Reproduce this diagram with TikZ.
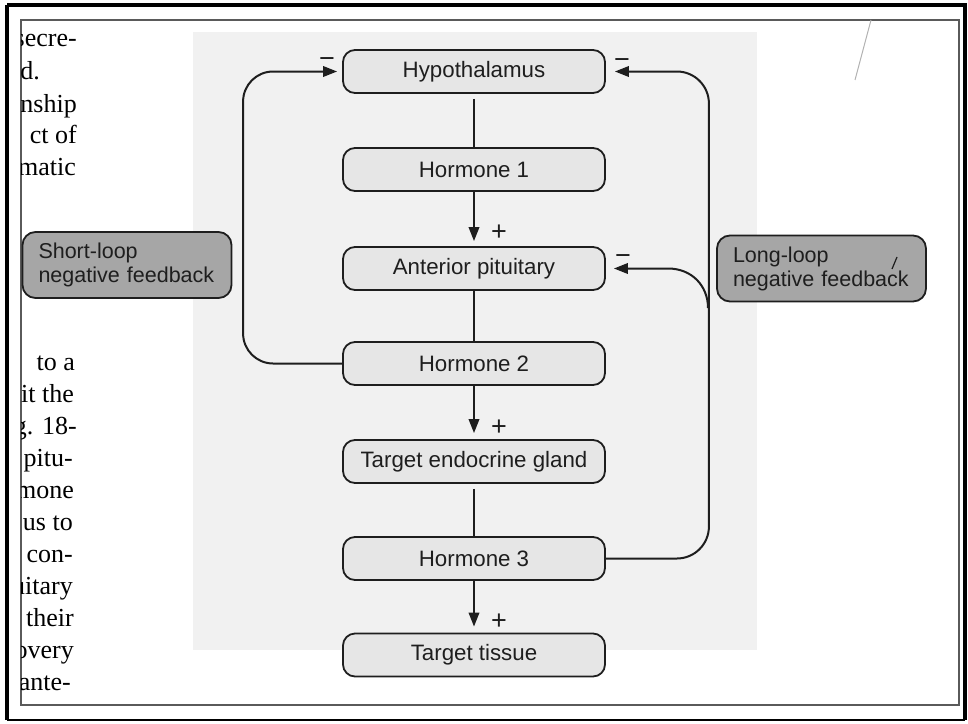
\documentclass[tikz,border=0pt]{standalone}
\usepackage{fontspec}
\setmainfont{Liberation Serif}
\newfontfamily\labelfont{Liberation Sans}
\usetikzlibrary{arrows.meta}

\definecolor{ink}{HTML}{1E1E1E}
\definecolor{panelgrey}{HTML}{F1F1F1}
\definecolor{boxgrey}{HTML}{E6E6E6}
\definecolor{taggrey}{HTML}{A6A6A6}
\definecolor{framegrey}{HTML}{5A5A5A}

\begin{document}
\begin{tikzpicture}[x=1pt,y=-1pt,
  stage/.style={draw=ink, line width=1.8pt, fill=boxgrey, rounded corners=12pt,
    minimum width=262pt, minimum height=43pt, inner sep=0pt,
    font=\labelfont\fontsize{22.3}{24}\selectfont, text=ink},
  tag/.style={draw=ink, line width=1.8pt, fill=taggrey, rounded corners=13pt,
    minimum height=66pt, inner xsep=16pt, inner ysep=0pt, align=left, text width=177pt,
    font=\labelfont\fontsize{21.5}{24}\selectfont, text=ink},
  link/.style={draw=ink, line width=2pt},
  flow/.style={link, -{Triangle[length=14pt,width=10.5pt]}},
  sign/.style={font=\labelfont\fontsize{27}{27}\selectfont, text=ink, inner sep=0pt},
  body/.style={font=\fontsize{26}{32}\selectfont, text=black, inner sep=0pt, anchor=base east},
]
\useasboundingbox (0,0) rectangle (968,723);

% page frame
\draw[line width=3.5pt] (7,5) -- (965,5) -- (965,720);
\draw[line width=3.5pt] (7,5) -- (7,720);
\draw[line width=2pt] (7,720) -- (965,720);
\draw[framegrey, line width=1.5pt] (21,20) rectangle (959,705);

% neighbouring column of running text, cut by the frame
\begin{scope}
  \clip (21.8,21) rectangle (190,704);
  \node[body] (t1)  at (77,46)  {secre-};
  \node[body] (t2)  at (40,79)  {d.};
  \node[body] (t3)  at (77,112) {nship};
  \node[body] (t4)  at (77,143) {ct of};
  \node[body] (t5)  at (76,175) {matic};
  \node[body] (t6)  at (75,370) {to a};
  \node[body] (t7)  at (74,402) {it the};
  \node[body] (t8)  at (77,434) {g. 18-};
  \node[body] (t9)  at (73,466) {pitu-};
  \node[body] (t10) at (74,498) {mone};
  \node[body] (t11) at (73,530) {us to};
  \node[body] (t12) at (73,562) {con-};
  \node[body] (t13) at (73,594) {uitary};
  \node[body] (t14) at (74,626) {their};
  \node[body] (t15) at (74,658) {overy};
  \node[body] (t16) at (71,690) {ante-};
\end{scope}

% figure panel
\fill[panelgrey] (193,32) rectangle (757,650);

% main chain
\node[stage] (hyp) at (474,71.5) {Hypothalamus};
\node[stage] (h1)  at (474,169.5) {Hormone 1};
\node[stage] (ap)  at (474,268.5) {Anterior pituitary};
\node[stage] (h2)  at (474,363.5) {Hormone 2};
\node[stage] (teg) at (474,461.5) {Target endocrine gland};
\node[stage] (h3)  at (474,558.5) {Hormone 3};
\node[stage] (tt)  at (474,655) {Target tissue};

\draw[link, shorten <=5pt] (hyp) -- (h1);
\draw[flow, shorten >=5pt] (h1) -- node[sign, pos=0.76, anchor=west, xshift=16pt] (p1) {+} (ap);
\draw[link] (ap) -- (h2);
\draw[flow, shorten >=6pt] (h2) -- node[sign, pos=0.78, anchor=west, xshift=16pt] (p2) {+} (teg);
\draw[link, shorten <=5pt] (teg) -- (h3);
\draw[flow, shorten >=6pt] (h3) -- node[sign, pos=0.78, anchor=west, xshift=16pt] (p3) {+} (tt);

% short loop
\draw[flow, rounded corners=30pt, shorten >=5pt] (h2.west) -- ++(-99,0) |- (hyp.west);
\node[sign] (m1) at (327,63) {−};

% long loop
\draw[flow, rounded corners=32pt, shorten >=9pt] (h3.east) -- ++(103,0) |- (hyp.east);
\coordinate (split) at (708,308);
\draw[flow, shorten >=8pt] (split) .. controls (708,286) and (692,268.5) .. (668,268.5) -- (ap.east);
\node[sign] (m2) at (622,64) {−};
\node[sign] (m3) at (623,260) {−};

% feedback labels
\node[tag] (short) at (127,265) {Short-loop\\negative feedback};
\node[tag] (long)  at (821.5,268.5) {Long-loop\\negative feedback};

% stray pen marks
\draw[black!30, line width=1pt] (871,20) -- (855,80);
\draw[ink, line width=1.2pt] (892,269) -- (897,257);
\end{tikzpicture}
\end{document}
